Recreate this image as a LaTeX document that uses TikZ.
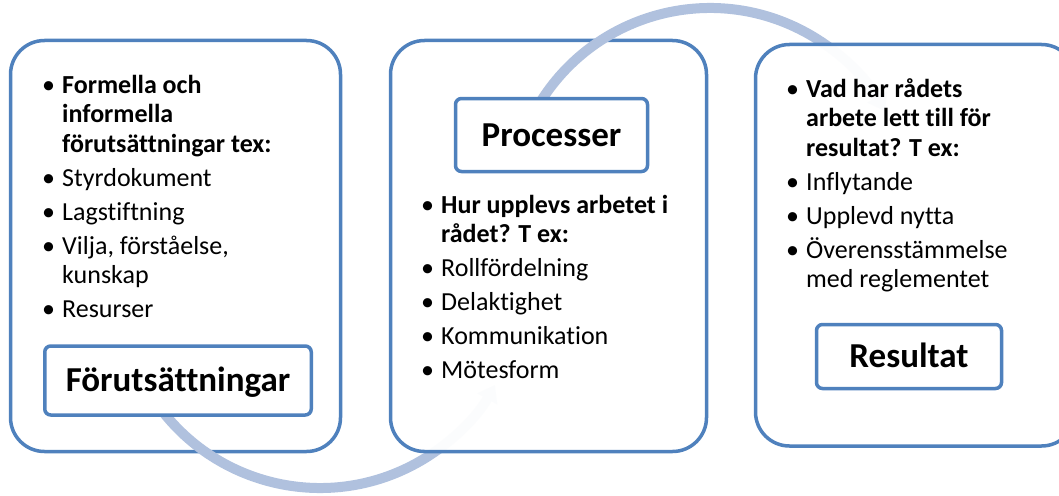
\documentclass[tikz,border=0pt]{standalone}
\usepackage{fontspec}
\setmainfont{Carlito}[Ligatures={NoCommon,NoContextual}]
\usetikzlibrary{arrows.meta}

\definecolor{ramblue}{RGB}{79,129,189}
\definecolor{pilblue}{RGB}{176,193,222}

% punkt i en lista: hangande indrag efter punkten
\newcommand{\itm}[1]{\par\hangindent=20pt\hangafter=1\noindent\hbox to 20pt{\textbullet\hfil}#1}
\newcommand{\lista}[1]{\vtop{\hsize=300pt\raggedright\fontsize{26}{29.5}\selectfont\parskip=4.5pt #1}}

\begin{document}
\begin{tikzpicture}[x=1pt,y=-1pt]
	\tikzstyle{every node} = [inner sep = 0pt]
	\tikzstyle{ram} = [draw = ramblue, line width = 3.5pt, rounded corners = 34pt, fill = white]
	\tikzstyle{etikett} = [draw = ramblue, line width = 3.5pt, rounded corners = 6pt, fill = white,
		font = \fontsize{35}{40}\selectfont\bfseries, text height = 30pt, text depth = 8pt]
	\tikzstyle{pil} = [draw = pilblue, line width = 10pt, -{Triangle[length=16pt,width=22pt]}]
	\useasboundingbox (0,0) rectangle (1059,495);
	\clip (0,0) rectangle (1059,495);

	% ramar och pilar
	\node[ram, minimum width = 330pt, minimum height = 411pt] (pre) at (175.5,246) {};
	\path[pil] (320,288) ++(150:200) arc (150:29:200);
	\node[ram, minimum width = 316pt, minimum height = 411pt, fill opacity = 0.96] (pro) at (548.5,246) {};
	\path[pil] (710,208) ++(-152:200) arc (-152:-29:200);
	\node[ram, minimum width = 320pt, minimum height = 401.5pt, fill opacity = 0.96] (res) at (915.5,245.25) {};

	% rubriker
	\node[etikett, minimum width = 266.5pt, minimum height = 69pt] (preRubrik) at (178,380.5) {Förutsättningar};
	\node[etikett, minimum width = 192pt, minimum height = 73pt] (proRubrik) at (551.5,135) {Processer};
	\node[etikett, minimum width = 185pt, minimum height = 64pt] (resRubrik) at (909,356.5) {Resultat};

	% listor
	\node[anchor = base west] (preLista) at (42,93) {\lista{%
		\itm{\textbf{Formella och\newline informella\newline förutsättningar tex:}}
		\itm{Styrdokument}
		\itm{Lagstiftning}
		\itm{Vilja, förståelse,\newline kunskap}
		\itm{Resurser}}};
	\node[anchor = base west] (proLista) at (421,213) {\lista{%
		\itm{\textbf{Hur upplevs arbetet i\newline rådet? T ex:}}
		\itm{Rollfördelning}
		\itm{Delaktighet}
		\itm{Kommunikation}
		\itm{Mötesform}}};
	\node[anchor = base west] (resLista) at (786,97) {\lista{%
		\itm{\textbf{Vad har rådets\newline arbete lett till för\newline resultat? T ex:}}
		\itm{Inflytande}
		\itm{Upplevd nytta}
		\itm{Överensstämmelse\newline med reglementet}}};
\end{tikzpicture}
\end{document}
